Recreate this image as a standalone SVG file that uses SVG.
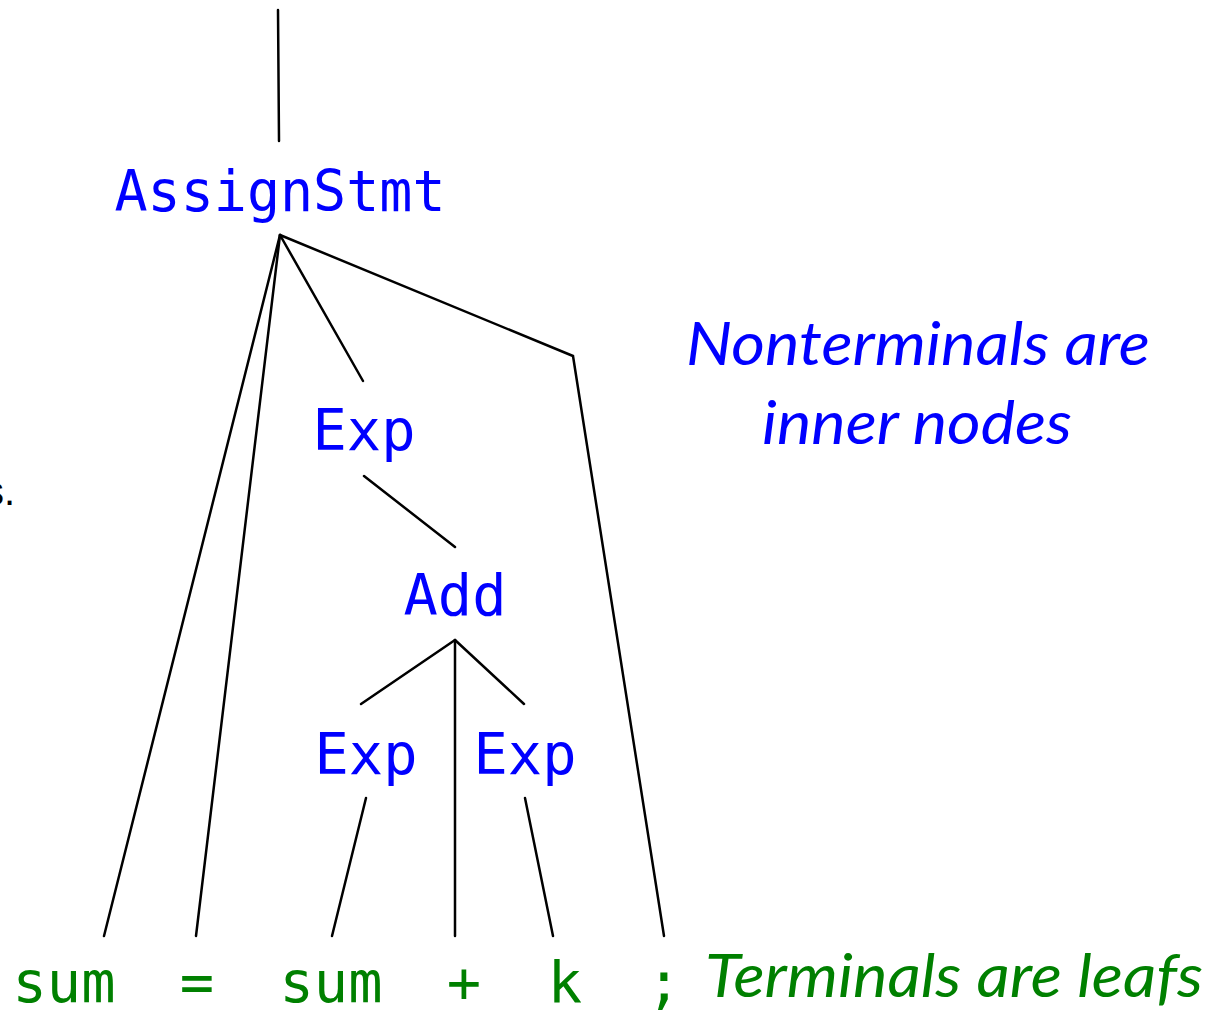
<svg xmlns="http://www.w3.org/2000/svg" width="1215" height="1013" viewBox="0 0 1215 1013">
<style>
.nt{font-family:"DejaVu Sans Mono","Liberation Mono",monospace;font-size:57px;fill:#0000ff;text-anchor:middle}
.t{font-family:"DejaVu Sans Mono","Liberation Mono",monospace;font-size:57px;fill:#008000;text-anchor:middle}
.note{font-family:"Lato","Open Sans","Liberation Sans",sans-serif;font-style:italic;font-size:60px}
.e{stroke:#000;stroke-width:2.5;fill:none;stroke-linecap:round}
</style>
<rect width="1215" height="1013" fill="#fff"/>
<g id="connectors">
<line class="e" x1="278" y1="10" x2="279" y2="141"/>
<line class="e" x1="280" y1="235" x2="104" y2="936"/>
<line class="e" x1="280" y1="235" x2="196" y2="936"/>
<line class="e" x1="280" y1="235" x2="363" y2="381"/>
<polyline class="e" points="280,235 573,356 664,936"/>
<line class="e" x1="364" y1="476" x2="455" y2="547"/>
<line class="e" x1="455" y1="640" x2="361" y2="704"/>
<line class="e" x1="455" y1="640" x2="455" y2="936"/>
<line class="e" x1="455" y1="640" x2="524" y2="704"/>
<line class="e" x1="366" y1="798" x2="332" y2="936"/>
<line class="e" x1="525" y1="798" x2="553" y2="936"/>
</g>
<g id="assignstmt"><text class="nt" x="280" y="211" textLength="331" lengthAdjust="spacingAndGlyphs">AssignStmt</text></g>
<g id="exp1"><text class="nt" x="364" y="450">Exp</text></g>
<g id="add"><text class="nt" x="455" y="615">Add</text></g>
<g id="exp2"><text class="nt" x="366" y="774">Exp</text></g>
<g id="exp3"><text class="nt" x="525" y="774">Exp</text></g>
<g id="t-sum1"><text class="t" x="64" y="1002">sum</text></g>
<g id="t-eq"><text class="t" x="197" y="1002">=</text></g>
<g id="t-sum2"><text class="t" x="331" y="1002">sum</text></g>
<g id="t-plus"><text class="t" x="464" y="1002">+</text></g>
<g id="t-k"><text class="t" x="565" y="1002">k</text></g>
<g id="t-semi"><text class="t" x="664" y="1002">;</text></g>
<g id="notes">
<text class="note" x="686" y="365" fill="#0000ff" textLength="464" lengthAdjust="spacingAndGlyphs">Nonterminals are</text>
<text class="note" x="762" y="444" fill="#0000ff" textLength="310" lengthAdjust="spacingAndGlyphs">inner nodes</text>
<text class="note" x="705" y="997" fill="#008000" textLength="498" lengthAdjust="spacingAndGlyphs">Terminals are leafs</text>
<text x="15" y="505" font-family="Liberation Sans, sans-serif" font-size="40" text-anchor="end" fill="#000">s.</text>
</g>
</svg>
